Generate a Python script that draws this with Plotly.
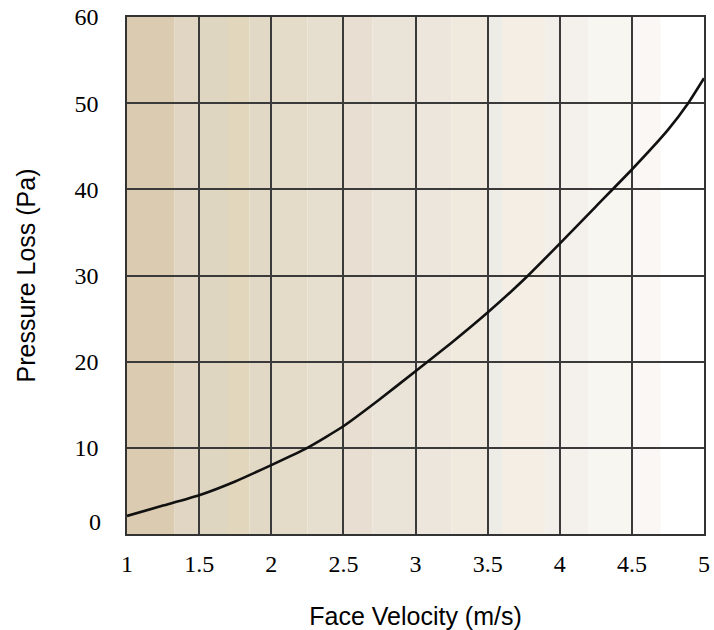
import plotly.graph_objects as go

# Data
velocity = [1.0, 1.25, 1.5, 1.75, 2.0, 2.25, 2.5, 2.75, 3.0, 3.25, 3.5, 3.75, 4.0, 4.25, 4.5, 4.75, 4.89, 5.0]
pressure = [2.1, 3.3, 4.5, 6.1, 8.0, 10.0, 12.5, 15.6, 18.9, 22.2, 25.7, 29.5, 33.7, 38.0, 42.3, 46.9, 50.0, 52.9]

x_ticks = [1, 1.5, 2, 2.5, 3, 3.5, 4, 4.5, 5]
x_tick_labels = ["1", "1.5", "2", "2.5", "3", "3.5", "4", "4.5", "5"]
y_ticks = [10, 20, 30, 40, 50, 60]
y_tick_labels = ["10", "20", "30", "40", "50", "60"]
y_zero_label = "0"

# Background banded gradient (style only)
band_edges = [1.0, 1.33, 1.5, 1.7, 1.85, 2.0, 2.25, 2.5, 2.7, 3.0, 3.25, 3.5, 3.6, 3.9, 4.0, 4.2, 4.5, 4.7, 5.0]
band_colors = ["#dbcbb0", "#e1d6c3", "#ded6c0", "#e2d6bc", "#e2d8c6", "#e4dbc8", "#e6dfd0",
               "#e8ded2", "#eae4d8", "#ece6dc", "#f0eade", "#eeece6", "#f4eee4", "#f2eeea",
               "#f4f1ed", "#f8f6f1", "#faf7f4", "#ffffff"]

fig = go.Figure()
fig.add_trace(go.Scatter(
    x=velocity, y=pressure, mode="lines",
    line=dict(color="#111111", width=2.6, shape="spline", smoothing=0.5),
    showlegend=False, hoverinfo="skip"))

shapes = []
for i, c in enumerate(band_colors):
    shapes.append(dict(type="rect", xref="x", yref="paper",
                       x0=band_edges[i], x1=band_edges[i + 1], y0=0, y1=1,
                       fillcolor=c, line=dict(width=0), layer="below"))

tick_font = dict(family="Liberation Serif, Times New Roman, serif", size=24, color="#000")
title_font = dict(family="Liberation Sans, Arial, sans-serif", size=25, color="#000")

fig.update_layout(
    width=714, height=630,
    margin=dict(l=127, r=10, t=17, b=96),
    paper_bgcolor="white", plot_bgcolor="white",
    shapes=shapes,
    annotations=[dict(text=y_zero_label, xref="paper", yref="y", x=0, y=0,
                      xanchor="right", yanchor="middle", xshift=-24, yshift=12,
                      showarrow=False, font=tick_font)],
    xaxis=dict(range=[1, 5], tickvals=x_ticks, ticktext=x_tick_labels, automargin=False,
               tickfont=tick_font, showgrid=True, gridcolor="#3a3a3a", gridwidth=1.6,
               zeroline=False, showline=True, linecolor="#333", linewidth=1.6, mirror=True,
               ticks="outside", ticklen=7, tickcolor="rgba(0,0,0,0)",
               title=dict(text="Face Velocity (m/s)", font=title_font, standoff=32)),
    yaxis=dict(range=[0, 60], tickvals=y_ticks, ticktext=y_tick_labels, automargin=False,
               tickfont=tick_font, showgrid=True, gridcolor="#3a3a3a", gridwidth=1.6,
               zeroline=False, showline=True, linecolor="#333", linewidth=1.6, mirror=True,
               ticks="outside", ticklen=22, tickcolor="rgba(0,0,0,0)",
               title=dict(text="Pressure Loss (Pa)", font=title_font, standoff=32)),
)

fig.write_html("out.html", config={"displayModeBar": False},
               post_script="document.body.style.margin='0';document.body.style.overflow='hidden';")
